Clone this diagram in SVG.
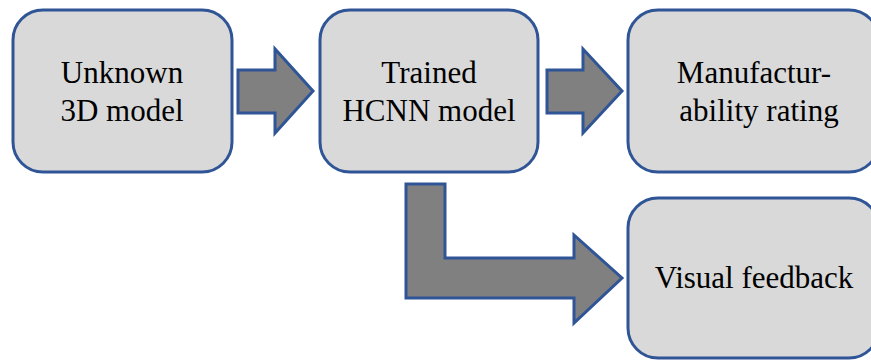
<svg xmlns="http://www.w3.org/2000/svg" width="871" height="360" viewBox="0 0 871 360">
  <style>
    .box { fill: #d9d9d9; stroke: #2f5597; stroke-width: 3; }
    .arrow { fill: #808080; stroke: #2f5597; stroke-width: 3; stroke-linejoin: miter; }
    .label { font-family: "Liberation Serif", "Times New Roman", serif; font-size: 31px; fill: #000; text-anchor: middle; }
  </style>
  <rect width="871" height="360" fill="#ffffff"/>

  <g id="connectors">
    <polygon class="arrow" points="238,70 275,70 275,49 313,91 275,133 275,113 238,113"/>
    <polygon class="arrow" points="547,70 583,70 583,49 622,91 583,133 583,113 547,113"/>
    <polygon class="arrow" points="406,184 445,184 445,258 574,258 574,235 622,278 574,323 574,298 406,298"/>
  </g>

  <g id="unknown-model">
    <rect class="box" x="13" y="10" width="219" height="162" rx="30" ry="30"/>
    <text class="label" x="122" y="83">Unknown</text>
    <text class="label" x="122" y="121">3D model</text>
  </g>

  <g id="hcnn-model">
    <rect class="box" x="320" y="10" width="218" height="162" rx="30" ry="30"/>
    <text class="label" x="429" y="83">Trained</text>
    <text class="label" x="429" y="121">HCNN model</text>
  </g>

  <g id="rating">
    <rect class="box" x="628" y="10" width="251" height="162" rx="30" ry="30"/>
    <text class="label" x="754" y="83">Manufactur-</text>
    <text class="label" x="759" y="121">ability rating</text>
  </g>

  <g id="feedback">
    <rect class="box" x="628" y="198" width="251" height="160" rx="30" ry="30"/>
    <text class="label" x="754" y="288">Visual feedback</text>
  </g>
</svg>
